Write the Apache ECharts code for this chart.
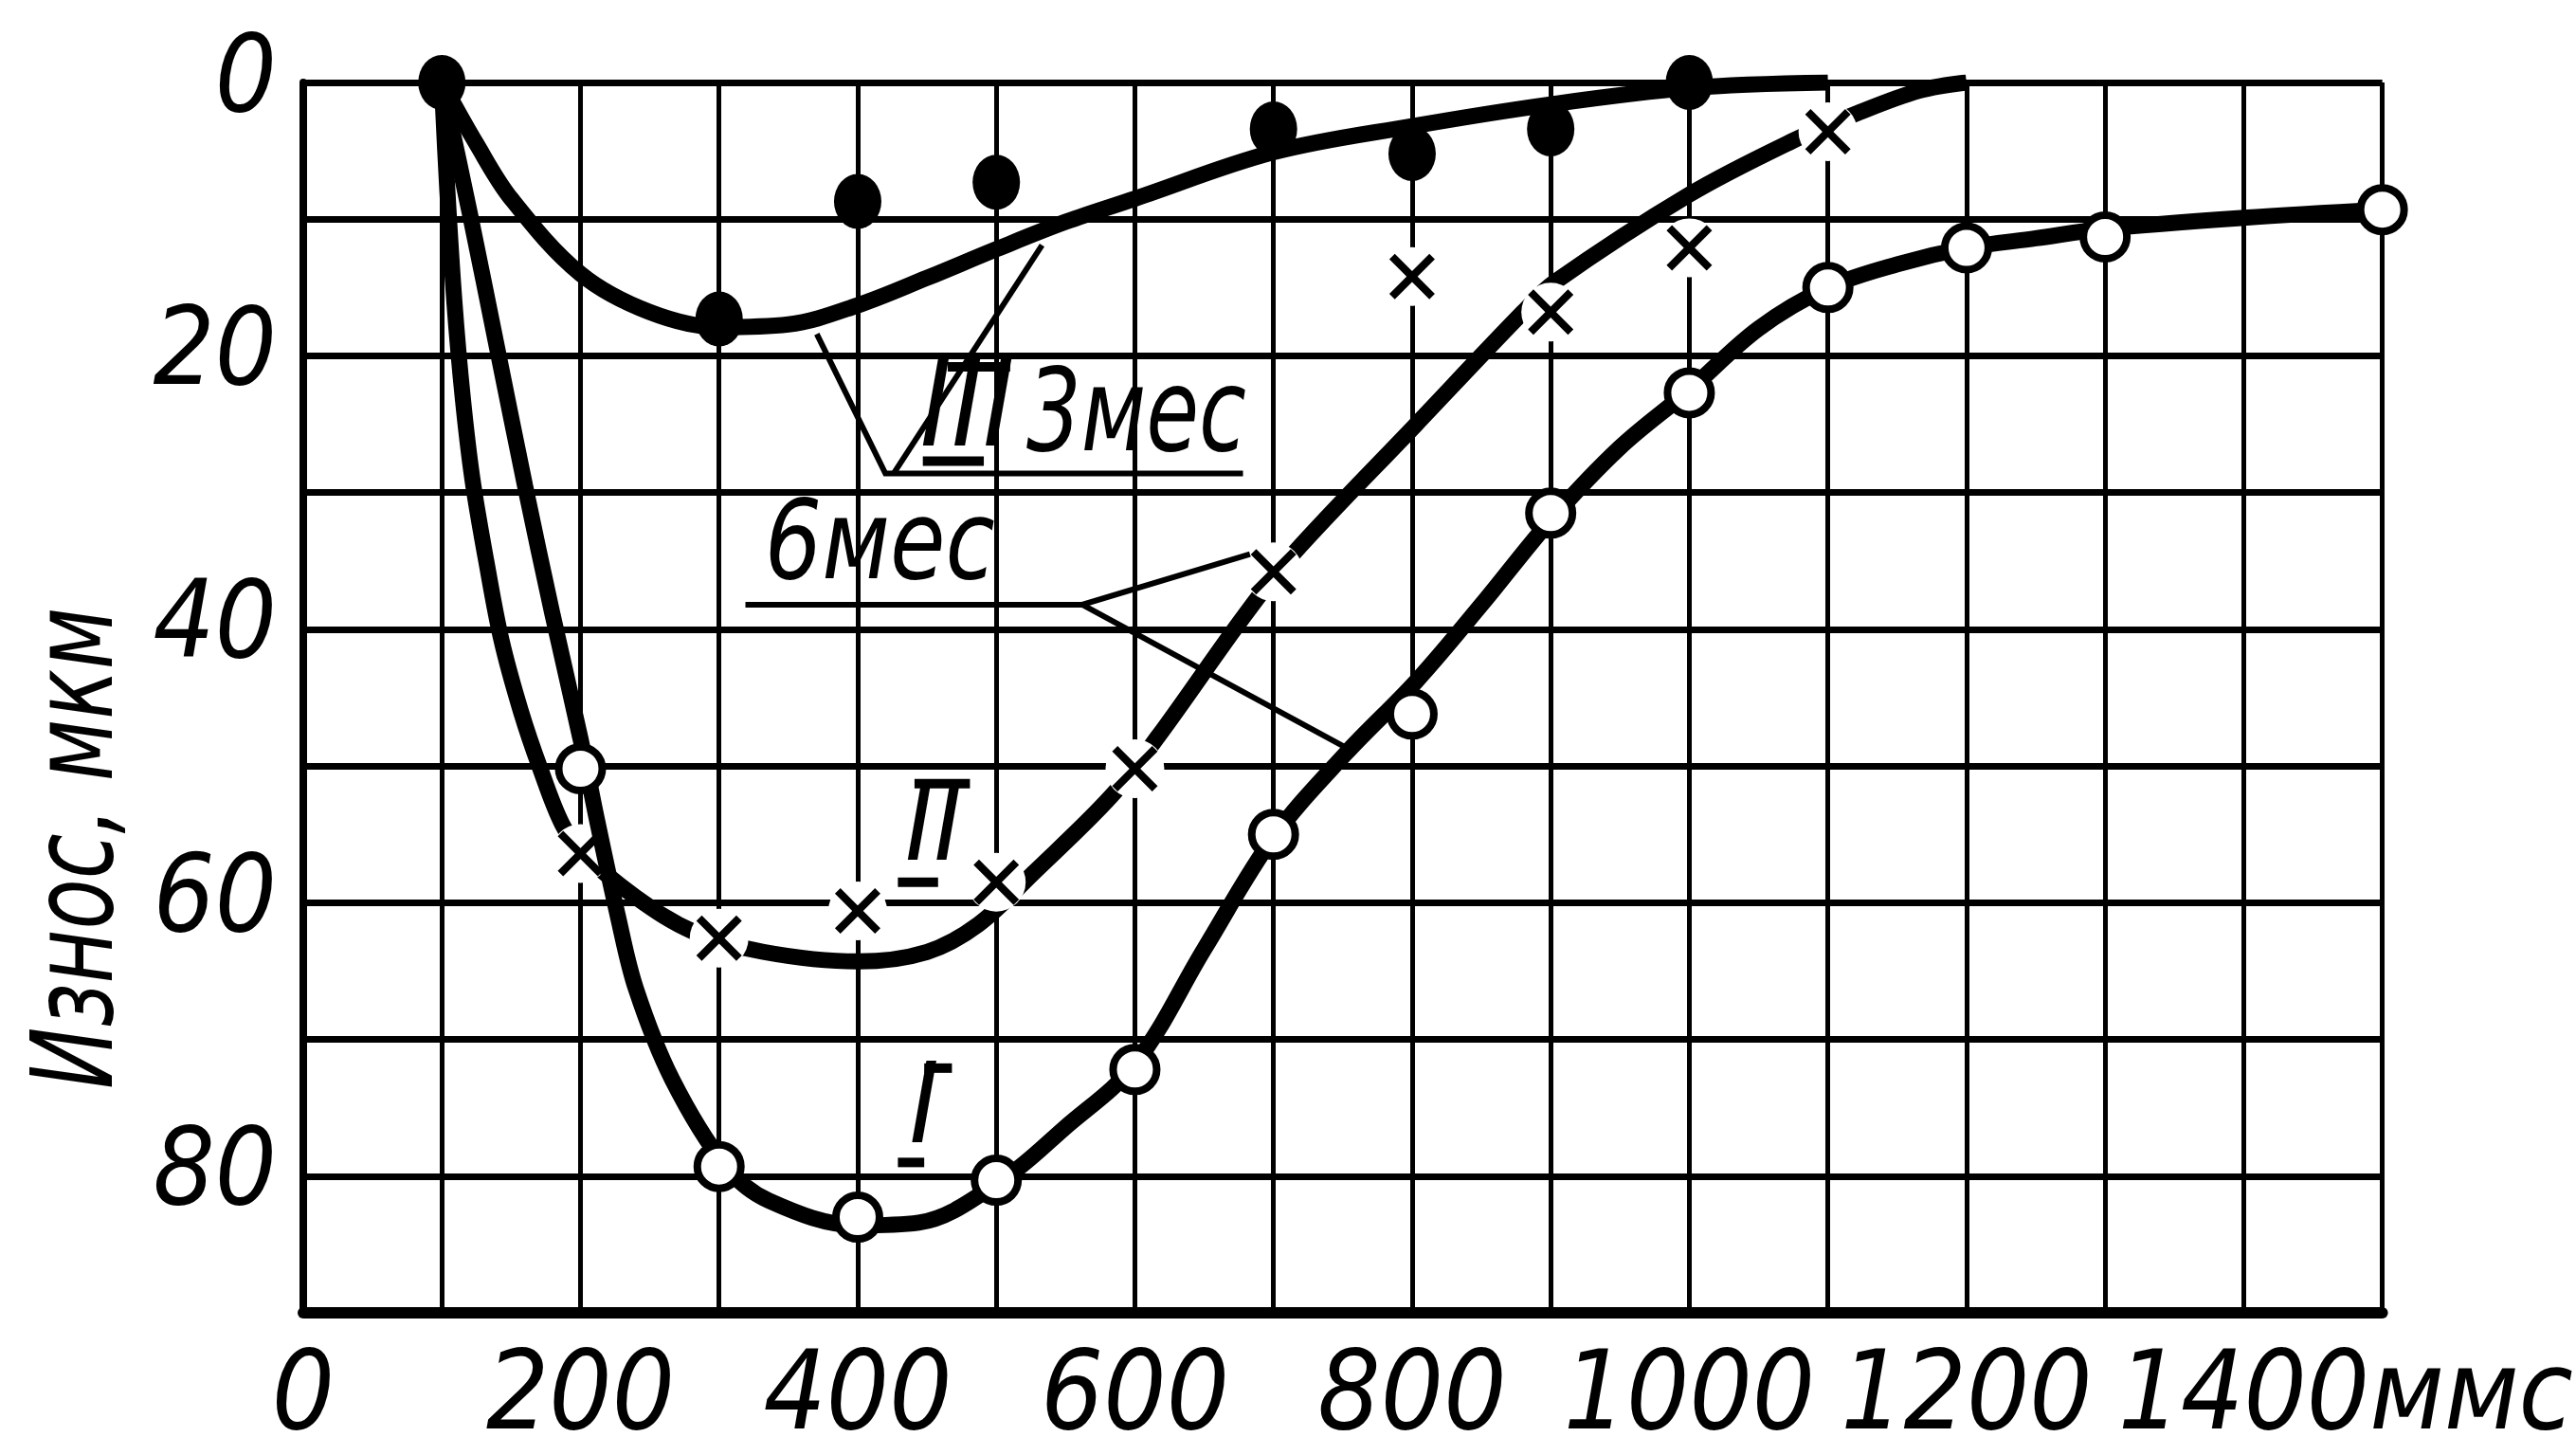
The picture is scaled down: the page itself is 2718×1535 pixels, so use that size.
<!DOCTYPE html>
<html>
<head>
<meta charset="utf-8">
<script src="https://cdn.jsdelivr.net/npm/echarts@6/dist/echarts.min.js"></script>
<style>
html,body{margin:0;padding:0;background:#fff;}
#chart{width:2718px;height:1535px;}
</style>
</head>
<body>
<div id="chart"></div>
<script>
// ---------- data ----------
const xTickLabels = ['0', '200', '400', '600', '800', '1000', '1200', '1400'];
const yTickLabels = ['0', '20', '40', '60', '80'];
const xUnit = 'ммс';
const yTitle = 'Износ, мкм';

// Curve I (open circles)
const pointsI = [[200, 50.2], [300, 79.3], [400, 83], [500, 80.3], [600, 72.2], [700, 55], [800, 46.2], [900, 31.5], [1000, 22.7], [1100, 15], [1200, 12.1], [1300, 11.3], [1500, 9.3]];
const curveI = [[100, 0], [120, 9.5], [140, 19.5], [160, 29.5], [180, 39], [200, 48], [212, 54], [227, 61], [240, 66.3], [266, 72.9], [305, 79.3], [336, 81.8], [400, 83.6], [444, 83.4], [504, 80.3], [549, 76.5], [600, 71.8], [650, 63.4], [700, 55.2], [752, 49.1], [803, 43.8], [850, 38.2], [900, 32], [950, 26.7], [1000, 22.5], [1050, 18], [1100, 15], [1150, 13.3], [1200, 12.1], [1250, 11.4], [1300, 10.7], [1400, 9.9], [1500, 9.3]];

// Curve II (crosses)
const pointsII = [[200, 56.4], [300, 62.6], [400, 60.6], [500, 58.5], [600, 50.2], [700, 35.8], [800, 14.2], [900, 16.8], [1000, 12.1], [1100, 3.6]];
const curveII = [[100, 0], [104, 8], [109, 16], [115, 23], [122, 29], [132, 35], [143, 40.8], [157, 46], [171, 50.2], [187, 54.3], [202, 56.4], [240, 59.6], [281, 62.1], [332, 63.6], [400, 64.3], [450, 63.6], [487, 61.6], [527, 57.8], [583, 52.2], [617, 47.8], [679, 39], [714, 34.5], [803, 25], [880, 16.8], [903, 14.6], [1000, 8.2], [1074, 4.3], [1120, 2.3], [1166, 0.6], [1200, 0]];

// Curve III (filled dots)
const pointsIII = [[100, 0], [300, 17.3], [400, 8.7], [500, 7.3], [700, 3.4], [800, 5.2], [900, 3.4], [1000, 0]];
const curveIII = [[100, 0], [125, 4.5], [150, 8.5], [200, 14], [250, 16.8], [300, 17.9], [350, 17.7], [400, 16.3], [450, 14.3], [500, 12.2], [550, 10.2], [600, 8.5], [700, 5.1], [800, 3.2], [900, 1.6], [1000, 0.4], [1100, 0]];

// Annotation texts (centre in data coordinates, wanted width in px or 0 for natural)
const noteTexts = [
  { text: '3мес', at: [601, 24.7], size: 121, width: 232 },
  { text: '6мес', at: [416, 34.2], size: 116, width: 243 },
  { text: 'III', at: [479, 24.3], size: 125, width: 0 },
  { text: 'II', at: [455, 54.8], size: 115, width: 0 },
  { text: 'I', at: [448, 75.4], size: 118, width: 0 }
];
// Leader lines and underlines (data coordinates)
const leaderLines = [
  [[370.5, 18.4], [420, 28.6], [678, 28.6]],
  [[426, 28.6], [533, 11.9]],
  [[319, 38.2], [562, 38.2], [683, 34.5]],
  [[562, 38.2], [755, 48.8]]
];
// bars above / below roman numerals
const romanBars = [
  [[465, 20.8], [510, 20.8]], [[447, 27.7], [491, 27.7]],
  [[441, 51.3], [481, 51.3]], [[429, 58.5], [458, 58.5]],
  [[448, 72.1], [468, 72.1]], [[429, 79.0], [448, 79.0]]
];

// ---------- chart ----------
const FONT = '"DejaVu Sans Condensed", "DejaVu Sans", sans-serif';
const crossPath = 'path://M0,12 L12,0 L50,38 L88,0 L100,12 L62,50 L100,88 L88,100 L50,62 L12,100 L0,88 L38,50 Z';

const mctx = document.createElement('canvas').getContext('2d');
function textWidth(t, size) { mctx.font = 'italic ' + size + 'px ' + FONT; return mctx.measureText(t).width; }

const LABEL_SIZE = 116;
const unitWidth = textWidth(xUnit, LABEL_SIZE);

const chart = echarts.init(document.getElementById('chart'), null, { renderer: 'canvas' });

const option = {
  backgroundColor: '#ffffff',
  animation: false,
  grid: { left: 320, right: 180, top: 87, bottom: 139, containLabel: false },
  xAxis: {
    type: 'value', min: 0, max: 1500, interval: 100,
    axisLine: { show: true, onZero: false, lineStyle: { color: '#000', width: 12 } },
    axisTick: { show: false },
    splitLine: { show: true, lineStyle: { color: '#000', width: 5 } },
    axisLabel: {
      color: '#000', fontSize: LABEL_SIZE, fontStyle: 'italic', fontFamily: FONT, margin: 34,
      formatter: v => {
        const s = String(v);
        if (xTickLabels.indexOf(s) < 0) return '';
        if (s === xTickLabels[xTickLabels.length - 1]) return '{p|}' + s + '{u|' + xUnit + '}';
        return s;
      },
      rich: {
        p: { width: unitWidth, fontSize: LABEL_SIZE },
        u: { color: '#000', fontSize: LABEL_SIZE, fontStyle: 'italic', fontFamily: FONT }
      }
    }
  },
  yAxis: {
    type: 'value', inverse: true, min: 0, max: 90, interval: 10,
    axisLine: { show: true, onZero: false, lineStyle: { color: '#000', width: 8 } },
    axisTick: { show: false },
    splitLine: { show: true, lineStyle: { color: '#000', width: 7 } },
    axisLabel: {
      color: '#000', fontSize: 114, fontStyle: 'italic', fontFamily: FONT, margin: 28,
      formatter: v => (yTickLabels.indexOf(String(v)) >= 0 ? String(v) : '')
    }
  },
  series: [
    {
      name: 'II', type: 'line', data: curveII, smooth: 0.35,
      symbol: 'none', lineStyle: { color: '#000', width: 17 }, z: 2, silent: true
    },
    {
      name: 'II gaps', type: 'scatter', data: pointsII, symbol: 'circle', symbolSize: 62,
      itemStyle: { color: '#fff', opacity: 1 }, z: 3, silent: true
    },
    {
      name: 'I', type: 'line', data: curveI, smooth: 0.35,
      symbol: 'none', lineStyle: { color: '#000', width: 17 }, z: 4, silent: true
    },
    {
      name: 'III', type: 'line', data: curveIII, smooth: 0.35,
      symbol: 'none', lineStyle: { color: '#000', width: 17 }, z: 4, silent: true
    },
    {
      name: 'notes lines', type: 'lines', coordinateSystem: 'cartesian2d', polyline: true,
      data: leaderLines.map(c => ({ coords: c })),
      lineStyle: { color: '#000', width: 6, opacity: 1 }, z: 4, silent: true
    },
    {
      name: 'roman bars', type: 'lines', coordinateSystem: 'cartesian2d', polyline: true,
      data: romanBars.map(c => ({ coords: c })),
      lineStyle: { color: '#000', width: 10, opacity: 1 }, z: 4, silent: true
    },
    {
      name: 'I points', type: 'scatter', data: pointsI, symbol: 'circle', symbolSize: 46,
      itemStyle: { color: '#fff', borderColor: '#000', borderWidth: 8, opacity: 1 }, z: 5, silent: true
    },
    {
      name: 'II points', type: 'scatter', data: pointsII, symbol: crossPath, symbolSize: 48,
      itemStyle: { color: '#000', opacity: 1 }, z: 5, silent: true
    },
    {
      name: 'III points', type: 'scatter', data: pointsIII, symbol: 'circle', symbolSize: [50, 58],
      itemStyle: { color: '#000', opacity: 1 }, z: 5, silent: true
    }
  ]
};
chart.setOption(option);

// text annotations placed through the chart's own coordinate conversion
function px(p) { return chart.convertToPixel({ gridIndex: 0 }, p); }
const graphics = noteTexts.map(n => {
  const p = px(n.at);
  const sx = n.width ? n.width / textWidth(n.text, n.size) : 1;
  return {
    type: 'text', x: p[0], y: p[1], scaleX: sx, z: 20, silent: true,
    style: { text: n.text, fill: '#000', fontSize: n.size, fontStyle: 'italic', fontFamily: FONT, align: 'center', verticalAlign: 'middle' }
  };
});
// y-axis title
const TITLE_SIZE = 119;
const tAnchor = px([0, 56]);
graphics.push({
  type: 'text', x: tAnchor[0] - 233, y: tAnchor[1], rotation: Math.PI / 2,
  scaleX: 508 / textWidth(yTitle, TITLE_SIZE), z: 20, silent: true,
  style: { text: yTitle, fill: '#000', fontSize: TITLE_SIZE, fontStyle: 'italic', fontFamily: FONT, align: 'center', verticalAlign: 'middle' }
});
chart.setOption({ graphic: graphics });
</script>
</body>
</html>
